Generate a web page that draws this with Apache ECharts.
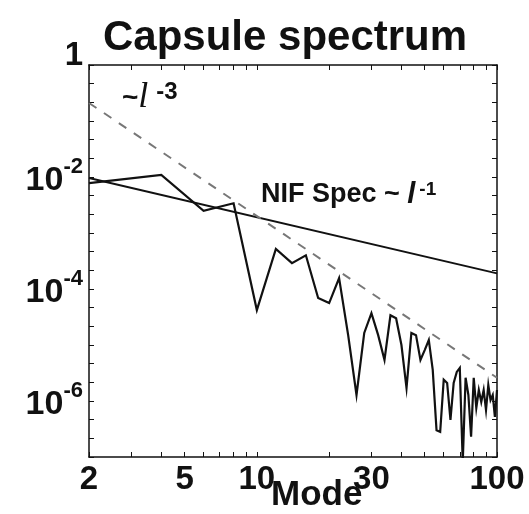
<!DOCTYPE html>
<html>
<head>
<meta charset="utf-8">
<script src="https://cdn.jsdelivr.net/npm/echarts@6/dist/echarts.min.js"></script>
<style>
html, body { margin: 0; padding: 0; background: #fff; }
#main { width: 529px; height: 514px; }
</style>
</head>
<body>
<div id="main"></div>
<script>
// capsule spectrum (even modes only)
var modes = [2, 4, 6, 8, 10, 12, 14, 16, 18, 20, 22, 24, 26, 28, 30, 32, 34, 36, 38, 40,
    42, 44, 46, 48, 50, 52, 54, 56, 58, 60, 62, 64, 66, 68, 70, 72, 74, 76, 78, 80,
    82, 84, 86, 88, 90, 92, 94, 96, 98, 100];
var capsule = [7.8e-3, 1.09e-2, 2.5e-3, 3.4e-3, 4.2e-5, 5.2e-4, 2.9e-4, 4.0e-4, 6.9e-5, 5.6e-5,
    1.57e-4, 1.5e-5, 1.28e-6, 1.64e-5, 3.7e-5, 1.5e-5, 5.4e-6, 3.4e-5, 3.0e-5, 1.0e-5,
    1.7e-6, 1.64e-5, 1.5e-5, 5.4e-6, 8.1e-6, 1.23e-5, 3.6e-6, 3.0e-7, 2.8e-7, 2.4e-6,
    2.1e-6, 4.6e-7, 2.1e-6, 3.3e-6, 3.9e-6, 8e-8, 2.6e-6, 1.28e-6, 2.3e-7, 2.6e-6,
    7.5e-7, 1.57e-6, 9.6e-7, 1.57e-6, 6.9e-7, 1.93e-6, 1.04e-6, 1.28e-6, 5.2e-7, 1.57e-6];

// NIF spec ~ l^-1
var nifModes = [2, 100];
var nifSpec = [9.6e-3, 1.9e-4];

// ~ l^-3 guide line
var fitModes = [2, 100];
var fitValues = [0.21, 2.6e-6];

var xLabelValues = [2, 5, 10, 30, 100];
var xTickValues = [2, 3, 4, 5, 6, 7, 8, 9, 10, 20, 30, 40, 50, 60, 70, 80, 90, 100];
var yLabelValues = [1, 1e-2, 1e-4, 1e-6];

var yTickValues = [];
for (var k = 0; k <= 21; k++) yTickValues.push(Math.pow(10, -k / 3));

function pairs(xs, ys) {
    return xs.map(function (x, i) { return [x, ys[i]]; });
}

var FONT = 'Liberation Sans';
var INK = '#111';

var myChart = echarts.init(document.getElementById('main'));

var axisBase = {
    axisLine: { show: true, onZero: false, lineStyle: { color: INK, width: 1.5 } },
    splitLine: { show: false }
};

var option = {
    animation: false,
    backgroundColor: '#fff',
    title: {
        text: 'Capsule spectrum',
        left: 98,
        top: 12,
        textStyle: { fontFamily: FONT, fontWeight: 'bold', fontSize: 42, color: INK }
    },
    grid: { left: 89, right: 32, top: 65, bottom: 57 },
    xAxis: [
        Object.assign({
            type: 'log', logBase: 10, min: 2, max: 100, position: 'bottom',
            axisTick: { inside: true, length: 5, customValues: xTickValues, lineStyle: { color: INK } },
            axisLabel: {
                customValues: xLabelValues, margin: 6,
                fontFamily: FONT, fontWeight: 'bold', fontSize: 33, color: INK,
                formatter: function (v) { return String(Math.round(v)); }
            }
        }, axisBase),
        Object.assign({
            type: 'log', logBase: 10, min: 2, max: 100, position: 'top',
            axisTick: { inside: true, length: 5, customValues: xTickValues, lineStyle: { color: INK } },
            axisLabel: { show: false }
        }, axisBase)
    ],
    yAxis: [
        Object.assign({
            type: 'log', logBase: 10, min: 1e-7, max: 1, position: 'left',
            axisTick: { inside: true, length: 5, customValues: yTickValues, lineStyle: { color: INK } },
            axisLabel: {
                customValues: yLabelValues, margin: 6,
                formatter: function (v) {
                    if (v >= 0.5) return '{one|1}';
                    return '{b|10}{s|' + Math.round(Math.log10(v)) + '}';
                },
                rich: {
                    one: { fontFamily: FONT, fontWeight: 'bold', fontSize: 33, color: INK, padding: [0, 0, 18, 0] },
                    b: { fontFamily: FONT, fontWeight: 'bold', fontSize: 34, color: INK, padding: [8, 0, 0, 0] },
                    s: { fontFamily: FONT, fontWeight: 'bold', fontSize: 22, color: INK, verticalAlign: 'top' }
                }
            }
        }, axisBase),
        Object.assign({
            type: 'log', logBase: 10, min: 1e-7, max: 1, position: 'right',
            axisTick: { inside: true, length: 5, customValues: yTickValues, lineStyle: { color: INK } },
            axisLabel: { show: false }
        }, axisBase)
    ],
    series: [
        {
            name: 'NIF Spec',
            type: 'line',
            data: pairs(nifModes, nifSpec),
            symbol: 'none',
            lineStyle: { color: INK, width: 2 }
        },
        {
            name: 'l^-3',
            type: 'line',
            data: pairs(fitModes, fitValues),
            symbol: 'none',
            lineStyle: { color: '#777', width: 2, type: [9, 9] }
        },
        {
            name: 'Capsule',
            type: 'line',
            data: pairs(modes, capsule),
            symbol: 'none',
            clip: true,
            lineStyle: { color: INK, width: 2.2, join: 'miter' }
        }
    ],
    graphic: [
        {
            type: 'text', left: 271, top: 478,
            style: { text: 'Mode', fontFamily: FONT, fontWeight: 'bold', fontSize: 35, fill: INK }
        },
        {
            type: 'text', left: 122, top: 80,
            style: {
                text: '{t|~}{l|l}{s|-3}',
                rich: {
                    t: { fontFamily: FONT, fontWeight: 'bold', fontSize: 28, fill: INK },
                    l: { fontFamily: 'Liberation Serif', fontStyle: 'italic', fontSize: 36, fill: INK },
                    s: { fontFamily: FONT, fontWeight: 'bold', fontSize: 24, fill: INK, verticalAlign: 'top', padding: [0, 0, 0, 8] }
                }
            }
        },
        {
            type: 'text', left: 261, top: 180,
            style: {
                text: '{a|NIF Spec ~ }{l|l}{s|-1}',
                rich: {
                    a: { fontFamily: FONT, fontWeight: 'bold', fontSize: 27, fill: INK },
                    l: { fontFamily: FONT, fontStyle: 'italic', fontWeight: 'bold', fontSize: 29, fill: INK },
                    s: { fontFamily: FONT, fontWeight: 'bold', fontSize: 19, fill: INK, verticalAlign: 'top', padding: [0, 0, 0, 4] }
                }
            }
        }
    ]
};

myChart.setOption(option);
</script>
</body>
</html>
